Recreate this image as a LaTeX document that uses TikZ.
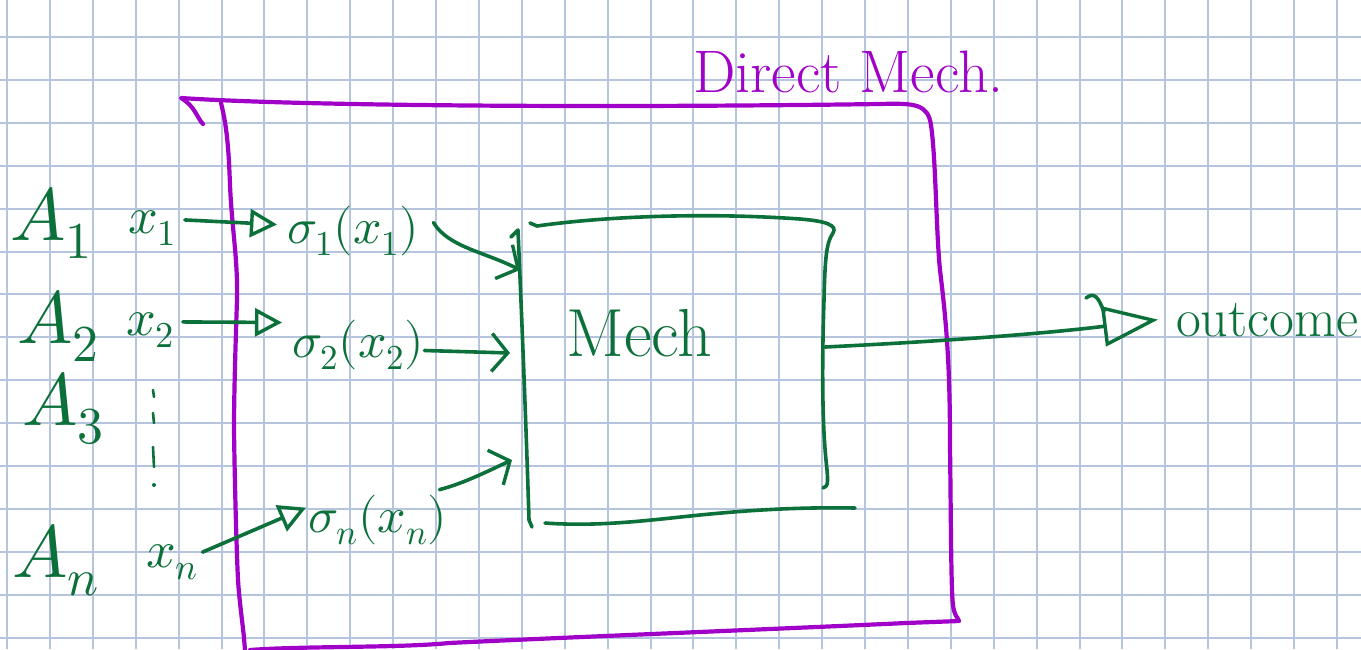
\documentclass[tikz,border=0pt]{standalone}
\usepackage{unicode-math}
\usetikzlibrary{arrows.meta,calc}
\definecolor{ink}{RGB}{12,112,58}
\definecolor{mauve}{RGB}{160,0,200}
\definecolor{gridblue}{RGB}{182,197,222}

\tikzset{
  gridline/.style={draw=gridblue,line width=2pt},
  penink/.style={draw=ink,line width=3.6pt,line cap=round,line join=round},
  penmauve/.style={draw=mauve,line width=4.2pt,line cap=round,line join=round},
  lbl/.style={text=ink,inner sep=0pt,anchor=base west},
  trihead/.style={penink,-{Triangle[open,length=27pt,width=28pt,line width=3.4pt]}},
  barbhead/.style={penink,-{Straight Barb[length=16pt,width=38pt,line width=3.4pt]}},
  frame/.style={inner sep=0pt,minimum width=306pt,minimum height=302pt},
}

\begin{document}
\begin{tikzpicture}[x=1pt,y=-1pt]
  % page and squared paper
  \useasboundingbox[fill=white] (0,0) rectangle (1361,649);
  \foreach \i in {0,...,31} \draw[gridline] ({7+42.9*\i},0) -- ({7+42.9*\i},649);
  \foreach \j in {0,...,14} \draw[gridline] (0,{37+42.9*\j}) -- (1361,{37+42.9*\j});

  % outer mechanism frame (purple)
  \node[text=mauve,inner sep=0pt,anchor=base west,font=\fontsize{60}{60}\selectfont] (title) at (693,92) {Direct Mech.};
  \draw[penmauve] (203,124) .. controls (197,118) and (195,106) .. (181,98)
     .. controls (300,106) and (600,108) .. (880,104)
     .. controls (915,103) and (928,104) .. (931,125)
     .. controls (936,160) and (936,230) .. (940,270)
     .. controls (946,320) and (950,360) .. (950,446)
     .. controls (951,520) and (951,590) .. (953,605)
     .. controls (954,615) and (958,618) .. (959,621)
     -- (906,623)
     .. controls (800,628) and (550,638) .. (449,643)
     .. controls (400,648) and (300,646) .. (250,650);
  \draw[penmauve] (221,103) .. controls (228,130) and (229,160) .. (230,185)
     .. controls (232,230) and (238,260) .. (237,300)
     .. controls (235,360) and (234,400) .. (234,430)
     .. controls (235,500) and (237,560) .. (238,580)
     .. controls (240,610) and (244,630) .. (245,652);
  \draw[penmauve,line width=2.5pt] (227,133) -- (229,157);

  % inner mechanism box (green)
  \node[frame] (mech) at (673,373) {};
  \node[lbl,font=\fontsize{68}{68}\selectfont] (mechtxt) at (566,356) {Mech};
  \draw[penink] (530,223) -- (537,226)
     .. controls (600,217) and (700,212) .. (800,219)
     .. controls (825,221) and (838,225) .. (833,233)
     .. controls (826,243) and (825,260) .. (824,300)
     .. controls (822,360) and (822,420) .. (826,460)
     .. controls (828,480) and (829,487) .. (823,488);
  \draw[penink] (511,237) -- (518,230)
     .. controls (521,300) and (526,420) .. (529,520) -- (532,527);
  \draw[penink] (545,523) .. controls (600,527) and (650,520) .. (700,515)
     .. controls (750,510) and (800,507) .. (855,508);
  \coordinate (in1) at (520,270);
  \coordinate (in2) at (510,353);
  \coordinate (inn) at (512,460);
  \coordinate (out) at (825,347);

  % agents, reports and strategies
  \node[lbl,font=\fontsize{74}{74}\selectfont] (a1) at (10,240) {$A_1$};
  \node[lbl,font=\fontsize{74}{74}\selectfont] (a2) at (17,343) {$A_2$};
  \node[lbl,font=\fontsize{74}{74}\selectfont] (a3) at (22,425) {$A_3$};
  \node[lbl,font=\fontsize{74}{74}\selectfont] (an) at (12,577) {$A_n$};

  \node[lbl,font=\fontsize{52}{52}\selectfont] (x1) at (128,233) {$x_1$};
  \node[lbl,font=\fontsize{52}{52}\selectfont] (x2) at (126,335) {$x_2$};
  \node[lbl,font=\fontsize{52}{52}\selectfont] (xn) at (146,567) {$x_n$};

  \node[lbl,font=\fontsize{50}{50}\selectfont] (s1) at (287,243) {$\sigma_1(x_1)$};
  \node[lbl,font=\fontsize{50}{50}\selectfont] (s2) at (292,357) {$\sigma_2(x_2)$};
  \node[lbl,font=\fontsize{50}{50}\selectfont] (sn) at (308,532) {$\sigma_n(x_n)$};

  % vertical ellipsis between x_2 and x_n
  \draw[penink,line width=2.6pt] (153,390) -- (154,397);
  \draw[penink,line width=2.6pt] (153,413) -- (154,423);
  \draw[penink,line width=2.6pt] (153,447) -- (154,467);
  \fill[ink] (154,485) circle (2pt);

  % strategies applied to types
  \draw[trihead] ($(x1.east)+(8,-8)$) -- ($(s1.west)+(-10,-6)$);
  \draw[trihead] ($(x2.east)+(8,-8)$) -- ($(s2.west)+(-10,-22)$);
  \draw[trihead] ($(xn.east)+(4,-10)$) -- ($(sn.west)+(-2,-12)$);

  % strategies fed into the mechanism
  \draw[barbhead] ($(s1.east)+(14,-8)$) .. controls (448,247) and (485,252) .. (in1);
  \draw[barbhead] ($(s2.east)+(0,6)$) -- (in2);
  \draw[barbhead] ($(sn.east)+(-8,-30)$) .. controls (465,483) and (490,470) .. (inn);

  % mechanism output
  \node[lbl,font=\fontsize{54}{54}\selectfont,inner sep=18pt] (outcome) at (1158,336) {outcome};
  \draw[penink,-{Triangle[open,length=55pt,width=40pt,line width=3.4pt]}]
     (out) .. controls (950,341) and (1050,333) .. (outcome.west);
  \draw[penink] (1086,298) .. controls (1094,292) and (1098,296) .. (1104,312);
\end{tikzpicture}
\end{document}
